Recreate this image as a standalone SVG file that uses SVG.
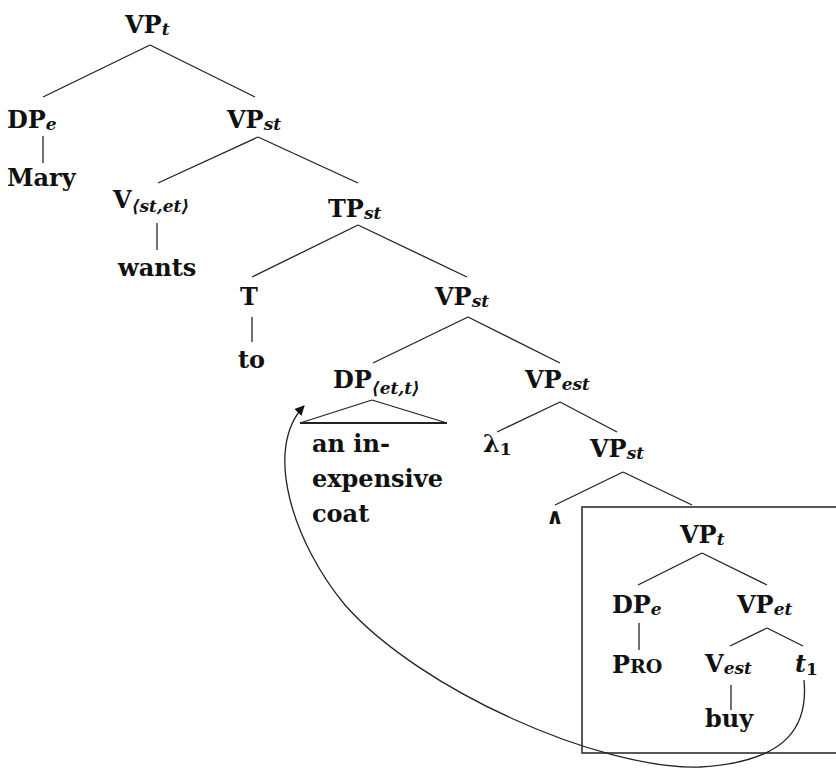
<svg xmlns="http://www.w3.org/2000/svg" width="836" height="769" viewBox="0 0 836 769">
<defs>
<style>
.l{font-family:"DejaVu Serif","Liberation Serif",serif;font-size:24px;font-weight:bold;fill:#111;}
.s{font-family:"DejaVu Serif","Liberation Serif",serif;font-size:17px;font-style:italic;font-weight:bold;fill:#111;}
.n{font-family:"DejaVu Serif","Liberation Serif",serif;font-size:17px;font-weight:bold;fill:#111;}
.e{stroke:#222;stroke-width:1.3;fill:none;}
</style>
<marker id="ah" viewBox="0 0 10 10" refX="9" refY="5" markerWidth="10" markerHeight="10" markerUnits="userSpaceOnUse" orient="auto">
<path d="M0,0 L10,5 L0,10 z" fill="#111"/>
</marker>
</defs>
<rect width="836" height="769" fill="#fff"/>
<g id="edges" class="e">
<line x1="150" y1="45" x2="43" y2="97"/>
<line x1="150" y1="45" x2="255" y2="97"/>
<line x1="43" y1="136" x2="43" y2="163"/>
<line x1="258" y1="137" x2="158" y2="183"/>
<line x1="258" y1="137" x2="358" y2="183"/>
<line x1="157" y1="223" x2="157" y2="250"/>
<line x1="358" y1="225" x2="252" y2="277"/>
<line x1="358" y1="225" x2="467" y2="277"/>
<line x1="252" y1="317" x2="252" y2="342"/>
<line x1="468" y1="317" x2="373" y2="363"/>
<line x1="468" y1="317" x2="560" y2="363"/>
<line x1="560" y1="402" x2="497" y2="432"/>
<line x1="560" y1="402" x2="617" y2="432"/>
<line x1="623" y1="472" x2="555" y2="505"/>
<line x1="623" y1="472" x2="692" y2="505"/>
<line x1="702" y1="553" x2="638" y2="585"/>
<line x1="702" y1="553" x2="767" y2="585"/>
<line x1="639" y1="623" x2="639" y2="650"/>
<line x1="767" y1="628" x2="730" y2="646"/>
<line x1="767" y1="628" x2="803" y2="646"/>
<line x1="731" y1="685" x2="731" y2="710"/>
<path d="M804,680 C808,722 792,762 700,767 C600,770 420,690 345,605 C295,545 262,450 304,406" marker-end="url(#ah)"/>
</g>
<g id="box"><rect x="582" y="507" width="300" height="246" fill="none" stroke="#222" stroke-width="1.5"/></g>
<g id="n-vp-root"><text class="l" x="125" y="33">VP<tspan class="s" dy="2">t</tspan></text></g>
<g id="n-dp-e"><text class="l" x="7" y="128">DP<tspan class="s" dy="2">e</tspan></text></g>
<g id="n-mary"><text class="l" x="7" y="186">Mary</text></g>
<g id="n-vp-st"><text class="l" x="227" y="128">VP<tspan class="s" dy="2">st</tspan></text></g>
<g id="n-v"><text class="l" x="113" y="208">V<tspan class="s" dy="4">⟨st,et⟩</tspan></text></g>
<g id="n-wants"><text class="l" x="118" y="276">wants</text></g>
<g id="n-tp"><text class="l" x="328" y="217">TP<tspan class="s" dy="2">st</tspan></text></g>
<g id="n-t"><text class="l" x="240" y="305">T</text></g>
<g id="n-to"><text class="l" x="238" y="368">to</text></g>
<g id="n-vp-st2"><text class="l" x="435" y="305">VP<tspan class="s" dy="2">st</tspan></text></g>
<g id="n-dp-q">
<text class="l" x="333" y="388">DP<tspan class="s" dy="6">⟨et,t⟩</tspan></text>
<path d="M372,400 L300,423 M372,400 L447,423" class="e"/>
<line x1="300" y1="423" x2="447" y2="423" stroke="#222" stroke-width="2.2"/>
<text class="l" x="312" y="452">an in-</text>
<text class="l" x="312" y="487">expensive</text>
<text class="l" x="312" y="522">coat</text>
</g>
<g id="n-vp-est"><text class="l" x="525" y="388">VP<tspan class="s" dy="2">est</tspan></text></g>
<g id="n-lambda"><text class="l" x="483" y="452">λ<tspan class="n" dy="3">1</tspan></text></g>
<g id="n-vp-st3"><text class="l" x="590" y="457">VP<tspan class="s" dy="2">st</tspan></text></g>
<g id="n-wedge"><text class="l" x="555" y="524" text-anchor="middle" style="font-size:22px">∧</text></g>
<g id="n-vp-t2"><text class="l" x="680" y="543">VP<tspan class="s" dy="2">t</tspan></text></g>
<g id="n-dp-e2"><text class="l" x="612" y="613">DP<tspan class="s" dy="2">e</tspan></text></g>
<g id="n-vp-et"><text class="l" x="737" y="613">VP<tspan class="s" dy="2">et</tspan></text></g>
<g id="n-pro"><text class="l" x="612" y="673">P<tspan style="font-size:19px">RO</tspan></text></g>
<g id="n-v-est"><text class="l" x="705" y="672">V<tspan class="s" dy="2">est</tspan></text></g>
<g id="n-t1"><text class="l" x="795" y="672" style="font-style:italic">t<tspan class="n" dy="3" style="font-style:normal">1</tspan></text></g>
<g id="n-buy"><text class="l" x="705" y="727">buy</text></g>
</svg>
